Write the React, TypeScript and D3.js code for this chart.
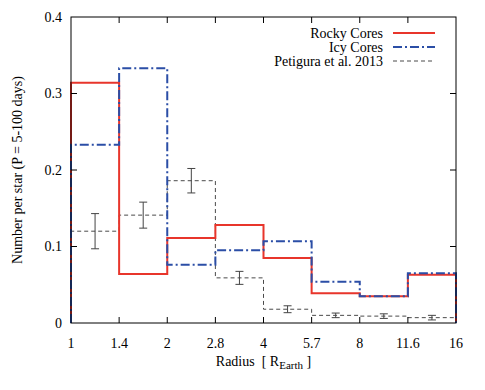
import * as d3 from 'd3'

const binEdges = ['1', '1.4', '2', '2.8', '4', '5.7', '8', '11.6', '16']
const rockyCores = [0.314, 0.064, 0.111, 0.128, 0.085, 0.039, 0.035, 0.063]
const icyCores = [0.233, 0.333, 0.076, 0.095, 0.107, 0.054, 0.035, 0.065]
const petigura = [0.12, 0.141, 0.186, 0.059, 0.018, 0.01, 0.009, 0.007]
const petiguraErr = [0.023, 0.017, 0.016, 0.0085, 0.0045, 0.003, 0.003, 0.003]
const yTicks = [0, 0.1, 0.2, 0.3, 0.4]

const FONT = 'Liberation Serif, Times New Roman, serif'
const RED = '#e8352b'
const BLUE = '#2b4ea6'
const GRAY = '#4a4a4a'
const DASHDOT = '9,3,2,3'

const width = 485
const height = 390
const margin = { top: 17, right: 29, bottom: 67, left: 71 }
const bw = width - margin.left - margin.right
const bh = height - margin.top - margin.bottom

const x = d3.scalePoint<number>().domain(d3.range(binEdges.length)).range([0, bw])
const y = d3.scaleLinear().domain([0, 0.4]).range([bh, 0])
const px = (i: number) => x(i) as number
const cx = (i: number) => (px(i) + px(i + 1)) / 2

// step outline for a histogram
const stepPath = (vals: number[]) => {
  const pts: [number, number][] = [[0, 0]]
  vals.forEach((v, i) => {
    pts.push([i, v])
    pts.push([i + 1, v])
  })
  pts.push([vals.length, 0])
  return d3
    .line<[number, number]>()
    .x((d) => px(d[0]))
    .y((d) => y(d[1]))(pts) as string
}

const legend = [
  { label: 'Rocky Cores', color: RED, dash: undefined, w: 2 },
  { label: 'Icy Cores', color: BLUE, dash: DASHDOT, w: 2 },
  { label: 'Petigura et al. 2013', color: GRAY, dash: '4,3', w: 1 },
]

export default function App() {
  const tk = 6
  const cap = 4
  return (
    <svg width={width} height={height} style={{ display: 'block', margin: '-8px' }}>
      <g transform={`translate(${margin.left},${margin.top})`}>
        <path d={stepPath(petigura)} fill="none" stroke={GRAY} strokeWidth={1} strokeDasharray="4,3" />
        {petigura.map((d, i) => {
          const lo = y(d - petiguraErr[i])
          const hi = y(d + petiguraErr[i])
          return (
            <g key={i} stroke="#444" strokeWidth={1}>
              <line x1={cx(i)} x2={cx(i)} y1={lo} y2={hi} />
              <line x1={cx(i) - cap} x2={cx(i) + cap} y1={lo} y2={lo} />
              <line x1={cx(i) - cap} x2={cx(i) + cap} y1={hi} y2={hi} />
            </g>
          )
        })}
        <path d={stepPath(rockyCores)} fill="none" stroke={RED} strokeWidth={2} />
        <path d={stepPath(icyCores)} fill="none" stroke={BLUE} strokeWidth={2} strokeDasharray={DASHDOT} />

        <rect width={bw} height={bh} fill="none" stroke="#000" strokeWidth={1} />

        {yTicks.slice(1, -1).map((t) => (
          <g key={t} stroke="#000">
            <line x1={0} x2={tk} y1={y(t)} y2={y(t)} />
            <line x1={bw} x2={bw - tk} y1={y(t)} y2={y(t)} />
          </g>
        ))}
        {binEdges.slice(1, -1).map((e, j) => (
          <g key={e} stroke="#000">
            <line x1={px(j + 1)} x2={px(j + 1)} y1={bh} y2={bh - tk} />
            <line x1={px(j + 1)} x2={px(j + 1)} y1={0} y2={tk} />
          </g>
        ))}

        {yTicks.map((t) => (
          <text key={t} x={-9} y={y(t) + 4.5} textAnchor="end" fontSize={14} fontFamily={FONT}>
            {t === 0 ? '0' : d3.format('.1f')(t)}
          </text>
        ))}
        {binEdges.map((e, i) => (
          <text key={e} x={px(i)} y={bh + 25} textAnchor="middle" fontSize={14} fontFamily={FONT}>
            {e}
          </text>
        ))}
      </g>

      <text x={margin.left + bw / 2} y={366} textAnchor="middle" fontSize={14} fontFamily={FONT}>
        <tspan>{'Radius\u00a0\u00a0[ R'}</tspan>
        <tspan fontSize={11} dy={3}>Earth</tspan>
        <tspan dy={-3}>{' ]'}</tspan>
      </text>
      <text
        transform={`translate(22,${margin.top + bh / 2}) rotate(-90)`}
        textAnchor="middle"
        fontSize={14}
        fontFamily={FONT}
      >
        Number per star (P = 5-100 days)
      </text>

      {legend.map((d, i) => (
        <g key={d.label} transform={`translate(0,${33 + i * 14})`}>
          <text x={383} y={4.5} textAnchor="end" fontSize={14} fontFamily={FONT}>
            {d.label}
          </text>
          <line x1={393} x2={435} y1={0} y2={0} stroke={d.color} strokeWidth={d.w} strokeDasharray={d.dash} />
        </g>
      ))}
    </svg>
  )
}
